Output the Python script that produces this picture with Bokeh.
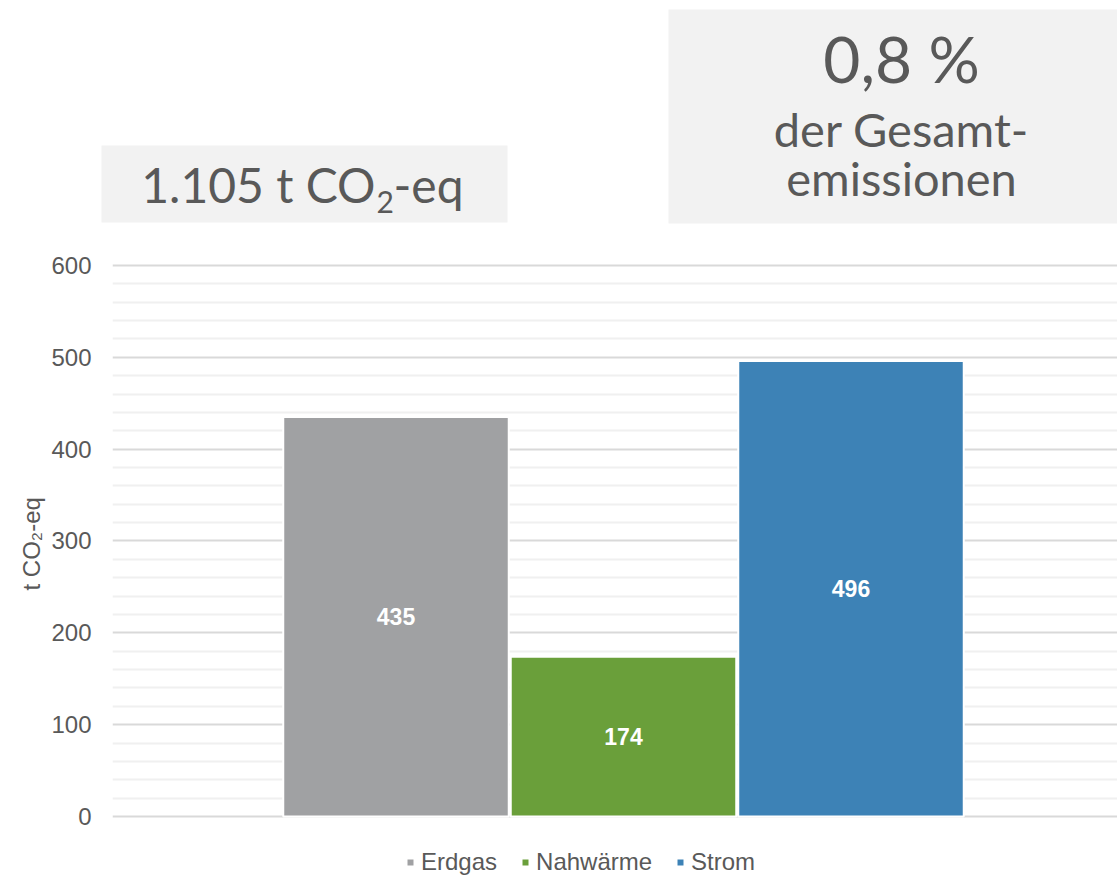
from bokeh.plotting import figure
from bokeh.models import ColumnDataSource, Range1d, FixedTicker, Legend, LegendItem, Title
from bokeh.layouts import column
from bokeh.embed import file_html
from bokeh.resources import INLINE
from bokeh.core.properties import value

# ---- data ----
categories = ["Erdgas", "Nahwärme", "Strom"]
emissions = [435, 174, 496]
bar_colors = ["#a0a1a3", "#6a9f3a", "#3d82b6"]
y_ticks = [0, 100, 200, 300, 400, 500, 600]
y_minor_ticks = [20, 40, 60, 80, 120, 140, 160, 180, 220, 240, 260, 280,
                 320, 340, 360, 380, 420, 440, 460, 480, 520, 540, 560, 580]
total_main = "1.105 t CO"
total_sub = "2"
total_tail = "-eq"
share_lines = ["0,8 %", "der Gesamt-", "emissionen"]
y_axis_title = "t CO₂-eq"

TEXT = "#595959"
BOX = "#f2f2f2"

# ---- top panel with the two info boxes (coordinates = page pixels) ----
top = figure(width=1117, height=250, x_range=Range1d(0, 1117), y_range=Range1d(250, 0),
             output_backend="svg", toolbar_location=None, min_border=0,
             x_axis_location=None, y_axis_location=None, frame_align=False)
top.grid.visible = False
top.outline_line_color = None
top.quad(left=[101, 668], right=[507, 1140], top=[145, 9], bottom=[222, 223],
         fill_color=BOX, line_color=None)

lato = value("Lato")
top.text(x=[375], y=[184.3], text=[total_main], text_align="right", text_baseline="middle",
         text_font=lato, text_font_size="48px", text_color=TEXT)
top.text(x=[376], y=[201.5], text=[total_sub], text_align="left", text_baseline="middle",
         text_font=lato, text_font_size="30px", text_color=TEXT)
top.text(x=[393], y=[184.3], text=[total_tail], text_align="left", text_baseline="middle",
         text_font=lato, text_font_size="48px", text_color=TEXT)

top.text(x=[901], y=[58.2], text=[share_lines[0]], text_align="center", text_baseline="middle",
         text_font=lato, text_font_size="64px", text_color=TEXT)
top.text(x=[901, 901], y=[128.8, 177.8], text=share_lines[1:], text_align="center",
         text_baseline="middle", text_font=lato, text_font_size="47px", text_color=TEXT)

# ---- chart ----
xs = list(range(len(categories)))
src = ColumnDataSource(dict(
    x=xs,
    value=emissions,
    mid=[v / 2 for v in emissions],
    label=[str(v) for v in emissions],
    color=bar_colors,
))

p = figure(width=1117, height=626,
           x_range=Range1d(-1.24615, 3.17143), y_range=Range1d(-65.34, 616.33),
           output_backend="svg", toolbar_location=None, frame_align=False,
           min_border_left=112, min_border_right=0, min_border_top=0, min_border_bottom=0,
           x_axis_location=None)
p.outline_line_color = None
p.xgrid.visible = False

ticker = FixedTicker(ticks=y_ticks, minor_ticks=y_minor_ticks)
p.yaxis.ticker = ticker
p.ygrid.ticker = ticker
p.ygrid.grid_line_color = "#d9d9d9"
p.ygrid.grid_line_width = 2
p.ygrid.minor_grid_line_color = "#f0f0f0"
p.ygrid.minor_grid_line_width = 2

ax = p.yaxis[0]
ax.axis_line_color = None
ax.major_tick_line_color = None
ax.minor_tick_line_color = None
ax.major_tick_out = 0
ax.major_tick_in = 0
ax.major_label_standoff = 17
ax.major_label_text_font = "Liberation Sans"
ax.major_label_text_font_size = "24px"
ax.major_label_text_color = TEXT

r = p.vbar(x="x", top="value", bottom=0, width=0.9912, source=src,
           fill_color="color", line_color="white", line_width=2)

p.text(x="x", y="mid", text="label", source=src, text_align="center", text_baseline="middle",
       text_color="white", text_font=value("Liberation Sans"), text_font_style="bold",
       text_font_size="23px")

legend = Legend(items=[LegendItem(label=c, renderers=[r], index=i) for i, c in enumerate(categories)],
                orientation="horizontal", location=(293, 0), padding=0, margin=0,
                glyph_width=10, glyph_height=10, label_standoff=6, spacing=23,
                label_text_font="Liberation Sans", label_text_font_size="24px",
                label_text_color=TEXT, background_fill_alpha=0, border_line_color=None)
p.add_layout(legend)

p.add_layout(Title(text=y_axis_title, align="left", offset=286, standoff=8,
                   text_font="Liberation Sans", text_font_size="24px", text_font_style="normal",
                   text_color=TEXT), "left")

layout = column(top, p, spacing=0)
open("out.html", "w").write(file_html(layout, INLINE))
